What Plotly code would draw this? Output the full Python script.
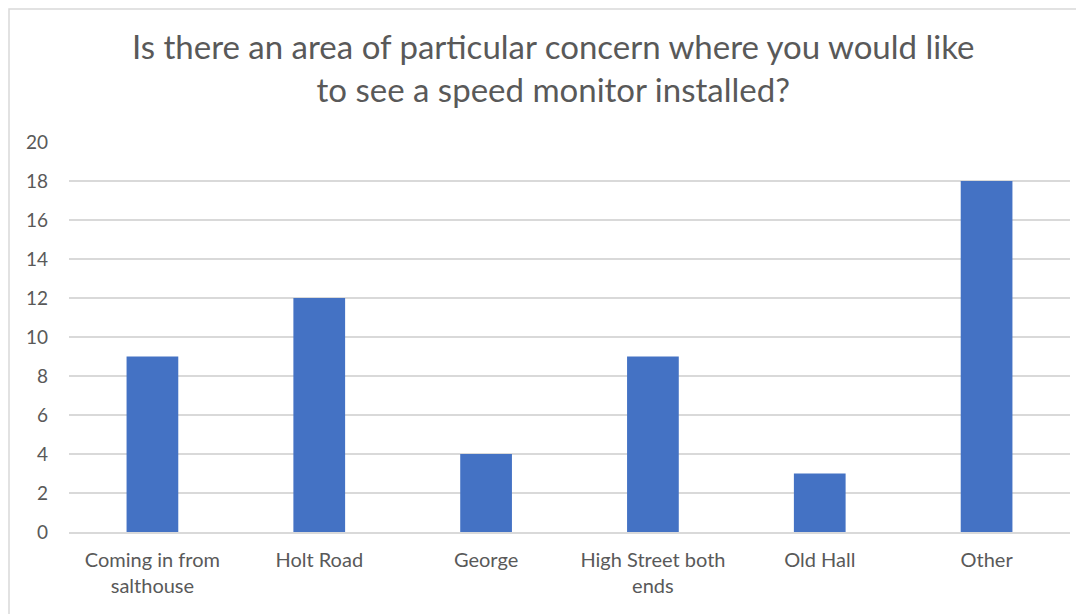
import plotly.graph_objects as go

TITLE = "Is there an area of particular concern where you would like<br>to see a speed monitor installed?"
CATEGORIES = ["Coming in from<br>salthouse", "Holt Road", "George",
              "High Street both<br>ends", "Old Hall", "Other"]
COUNTS = [9, 12, 4, 9, 3, 18]
Y_TICKS = [0, 2, 4, 6, 8, 10, 12, 14, 16, 18, 20]

BAR = "#4472C4"
GRID = "#d9d9d9"
TEXT = "#595959"
FONT = "Lato, 'Open Sans', sans-serif"

# page body adds an 8px offset, so the figure is 8px smaller
OFF = 8
W, H = 1084 - OFF, 614 - OFF
L, R, T, B = 69 - OFF, 14, 142 - OFF, 82
PW, PH = W - L - R, H - T - B

fig = go.Figure(go.Bar(
    x=CATEGORIES,
    y=COUNTS,
    marker=dict(color=BAR, line=dict(width=0)),
    width=0.31,
))

# chart-area border (only top/left visible in the crop)
fig.add_shape(
    type="rect", xref="paper", yref="paper",
    x0=(1 - L) / PW, x1=1.2, y0=-0.5, y1=(T - 1) / PH + 1,
    line=dict(color=GRID, width=1.5), fillcolor="rgba(0,0,0,0)", layer="below",
)

fig.add_annotation(
    text=TITLE, xref="paper", yref="paper",
    x=(553 - 69) / PW, y=(532 - 24) / PH,
    xanchor="center", yanchor="top", showarrow=False,
    font=dict(size=33, color=TEXT, family=FONT),
)

fig.update_layout(
    width=W, height=H,
    margin=dict(l=L, r=R, t=T, b=B),
    paper_bgcolor="white", plot_bgcolor="white",
    font=dict(family=FONT, color=TEXT, size=20),
    showlegend=False,
    xaxis=dict(
        showgrid=False, showline=True, linecolor=GRID, linewidth=1.5,
        tickfont=dict(size=20, color=TEXT), ticks="", ticklabelstandoff=9,
    ),
    yaxis=dict(
        range=[0, 20], tickvals=Y_TICKS, showgrid=True, gridcolor=GRID, gridwidth=1.5,
        zeroline=False, showline=False, ticks="",
        tickfont=dict(size=19, color=TEXT), ticklabelstandoff=20,
    ),
)

fig.write_html("out.html")
